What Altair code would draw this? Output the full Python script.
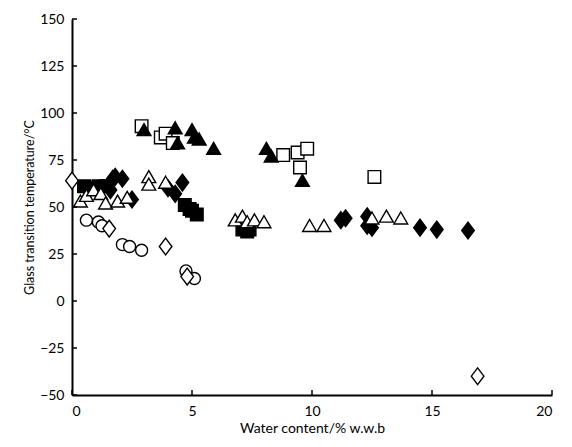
import altair as alt
import pandas as pd

# ---- data ----
x_ticks = [0, 5, 10, 15, 20]
y_ticks = [-50, -25, 0, 25, 50, 75, 100, 125, 150]

open_circle_x = [0.6, 1.1, 1.25, 2.1, 2.4, 2.9, 4.75, 5.1]
open_circle_y = [43, 42, 40, 30, 29, 27, 16, 12]

open_diamond_x = [0.0, 1.55, 3.9, 4.8, 16.9]
open_diamond_y = [64, 38.5, 29, 13, -40]

filled_square_x = [0.5, 0.8, 1.1, 1.4, 4.7, 4.9, 5.0, 5.2, 7.1, 7.3, 7.4]
filled_square_y = [61, 60, 61, 61, 51, 49, 48, 46, 38, 37, 38]

filled_diamond_x = [1.6, 1.7, 1.8, 2.1, 2.5, 4.0, 4.3, 4.6, 11.2, 11.4, 12.3, 12.3, 12.5, 14.5, 15.2, 16.5]
filled_diamond_y = [59, 65, 66, 65, 54, 60, 57, 63, 43, 44, 45, 40, 39, 39, 38, 37.5]

open_triangle_x = [0.35, 0.6, 0.9, 1.2, 1.4, 1.9, 2.3, 3.2, 3.2, 3.9, 6.8, 7.1, 7.3, 7.6, 8.0, 9.9, 10.5, 12.5, 13.1, 13.7]
open_triangle_y = [53, 56, 59, 57, 52, 53, 55, 66, 62, 63, 43, 45, 42, 43, 42, 40, 40, 44, 45, 44]

open_square_x = [2.9, 3.7, 3.9, 4.2, 8.8, 9.4, 9.8, 9.5, 12.6]
open_square_y = [93, 87, 89, 84, 77.6, 79, 81, 71, 66]

filled_triangle_x = [3.0, 4.3, 4.4, 5.0, 5.1, 5.3, 5.9, 8.1, 8.3, 9.6]
filled_triangle_y = [91, 92, 84, 91, 87, 86, 81, 81, 77, 64]

series = [
    ("open circle", open_circle_x, open_circle_y),
    ("open diamond", open_diamond_x, open_diamond_y),
    ("filled square", filled_square_x, filled_square_y),
    ("filled diamond", filled_diamond_x, filled_diamond_y),
    ("open triangle", open_triangle_x, open_triangle_y),
    ("open square", open_square_x, open_square_y),
    ("filled triangle", filled_triangle_x, filled_triangle_y),
]

rows = []
i = 0
for name, xs, ys in series:
    for xv, yv in zip(xs, ys):
        rows.append({"x": xv, "y": yv, "series": name, "k": i})
        i += 1
df = pd.DataFrame(rows)

names = [s[0] for s in series]
CIRCLE = "M-1,0A1,1,0,1,1,1,0A1,1,0,1,1,-1,0Z"
DIAMOND = "M0,-1.4L1.05,0L0,1.4L-1.05,0Z"
SQUARE = "M-1.05,-1.05H1.05V1.05H-1.05Z"
TRIANGLE = "M0,-1.05L1.15,0.95L-1.15,0.95Z"
shape_range = [CIRCLE, DIAMOND, SQUARE, DIAMOND, TRIANGLE, SQUARE, TRIANGLE]
fill_range = ["white", "white", "black", "black", "white", "white", "black"]

FONT = "Lato"

points = alt.Chart(df).mark_point(
    filled=True, size=144, stroke="black", strokeWidth=1.4, opacity=1, fillOpacity=1
).encode(
    x=alt.X("x:Q", scale=alt.Scale(domain=[0, 20], nice=False, zero=False),
            axis=alt.Axis(values=x_ticks, title="Water content/% w.w.b", ticks=False,
                          labelPadding=9, titleX=240, titleY=37, titleFontSize=14,
                          titleBaseline="alphabetic", titleAlign="center")),
    y=alt.Y("y:Q", scale=alt.Scale(domain=[-50, 150], nice=False, zero=False),
            axis=alt.Axis(values=y_ticks, title="Glass transition temperature/°C", ticks=False,
                          labelPadding=8, titleAngle=-90, titleX=-39, titleY=188, titleFontSize=12.5,
                          titleBaseline="alphabetic", titleAlign="center")),
    shape=alt.Shape("series:N", scale=alt.Scale(domain=names, range=shape_range), legend=None),
    fill=alt.Fill("series:N", scale=alt.Scale(domain=names, range=fill_range), legend=None),
    order=alt.Order("k:Q"),
)

yt = alt.Chart(pd.DataFrame({"y": y_ticks})).mark_rule(color="black", strokeWidth=1.5).encode(
    y=alt.Y("y:Q"), x=alt.value(0), x2=alt.value(5)
)
xt = alt.Chart(pd.DataFrame({"x": x_ticks})).mark_rule(color="black", strokeWidth=1.5).encode(
    x=alt.X("x:Q"), y=alt.value(376), y2=alt.value(371)
)

chart = alt.layer(points, yt, xt).properties(
    width=480, height=376,
    autosize=alt.AutoSizeParams(type="none"),
    padding={"left": 72, "top": 19, "right": 20, "bottom": 52},
).configure_view(stroke=None).configure_axis(
    grid=False, domainColor="black", domainWidth=2,
    labelFont=FONT, labelFontSize=14, labelColor="black",
    titleFont=FONT, titleColor="black", titleFontWeight="normal",
)

chart.save("out.html", embed_options={"renderer": "svg", "actions": False})
